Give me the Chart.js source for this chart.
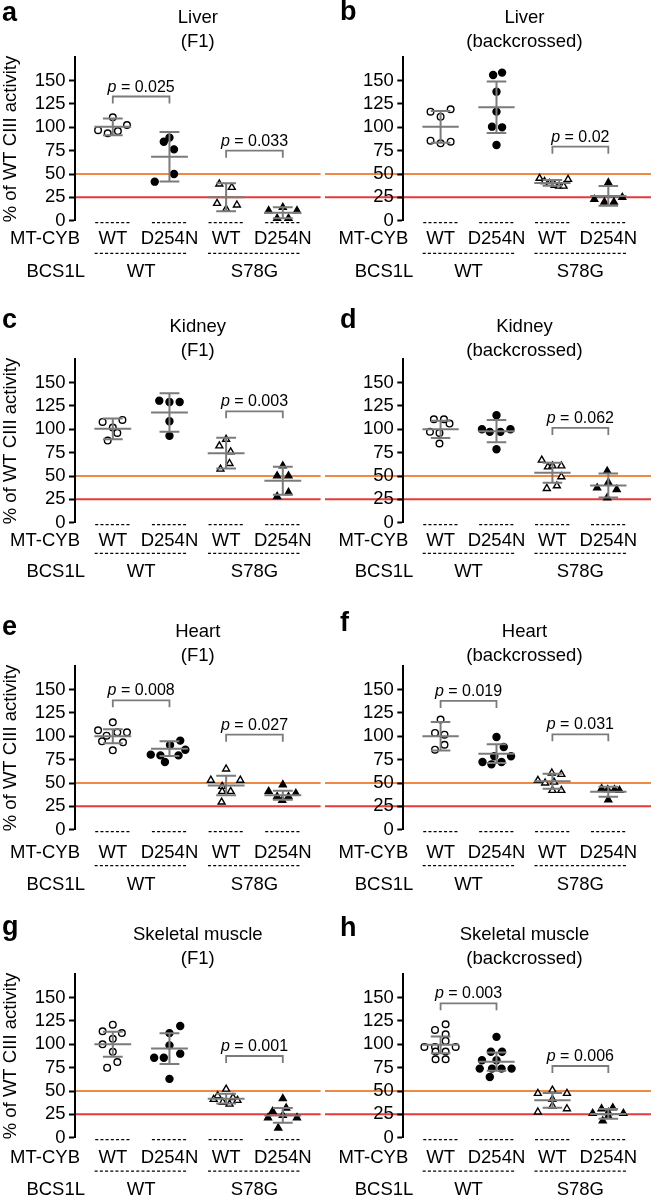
<!DOCTYPE html>
<html>
<head>
<meta charset="utf-8">
<script src="https://cdn.jsdelivr.net/npm/chart.js@4.4.1/dist/chart.umd.min.js"></script>
<style>
  html, body { margin: 0; padding: 0; background: #fff; overflow: hidden; }
  #fig { position: relative; width: 651px; height: 1196px; overflow: hidden; }
  #fig canvas { position: absolute; }
</style>
</head>
<body>
<div id="fig"></div>
<script>
// shared labels
const categories = ['WT', 'D254N', 'WT', 'D254N'];
const bcs1lGroups = ['WT', 'S78G'];
const yTickValues = [0, 25, 50, 75, 100, 125, 150];
const thresholds = [50, 25];
const thresholdColors = ['#ef8a45', '#e63a3a'];

// a - Liver (F1)
const aValues = [[110.7, 97, 93.6, 96, 102.5], [89, 84.6, 76.4, 50, 41.8], [39.3, 35.7, 18.6, 12.5, 16.8], [14.3, 10.7, 10.7, 2.5, 2.5]];
const aJitter = [[0, -0.26, -0.09, 0.09, 0.25], [0, -0.1, 0.08, 0.08, -0.26], [-0.12, 0.1, -0.16, 0, 0.19], [0, -0.25, 0.25, -0.1, 0.1]];
const aMean = [100.5, 68.5, 25, 8.5];
const aSd = [9, 26.5, 15, 6];
const aP = [[1, 2, 133, '0.025'], [3, 4, 75, '0.033']];

// b - Liver (backcrossed)
const bValues = [[116.8, 119.3, 111.4, 85.7, 82.9, 84.6], [156, 158.6, 138.2, 116.8, 100.7, 100, 81], [45.4, 42, 40, 38, 37, 37, 44.3], [40.7, 22.9, 20, 20, 25]];
const bJitter = [[-0.18, 0.18, 0, -0.18, 0, 0.18], [-0.06, 0.1, 0, 0, -0.08, 0.1, 0], [-0.23, -0.14, -0.05, 0.04, 0.12, 0.2, 0.28], [0, -0.25, -0.07, 0.1, 0.25]];
const bMean = [100.5, 121.5, 40.5, 26.5];
const bSd = [17, 27.5, 3, 10.6];
const bP = [[3, 4, 79.3, '0.02']];

// c - Kidney (F1)
const cValues = [[107.9, 110.1, 101.9, 96.2, 88], [130.7, 129.3, 129.3, 108.7, 93], [89.4, 82.3, 75.9, 63.4, 57.4], [60.9, 50.2, 50.2, 32.4, 28.1]];
const cJitter = [[-0.18, 0.17, 0, 0.08, -0.09], [-0.18, 0, 0.18, 0, 0], [0, -0.12, 0.08, 0.06, -0.1], [0, -0.1, 0.1, 0.1, -0.1]];
const cMean = [100.5, 118, 74.5, 45];
const cSd = [11, 20.6, 16.4, 15];
const cP = [[3, 4, 119.3, '0.003']];

// d - Kidney (backcrossed)
const dValues = [[110.8, 110.8, 106.2, 97.3, 96.2, 84.8], [115, 100.1, 97.3, 97.3, 100.1, 78.7], [67, 59.8, 60.9, 60.9, 49.2, 36.7, 39.5], [55.2, 43.1, 37.4, 35.6, 26.7]];
const dJitter = [[-0.12, 0.06, 0.16, -0.19, -0.02, -0.02], [0, -0.26, -0.12, 0.07, 0.25, 0], [-0.19, -0.08, 0, 0.16, 0.16, -0.1, 0.08], [-0.02, 0, -0.2, 0.15, -0.02]];
const dMean = [100, 98, 53.4, 39.8];
const dSd = [9.3, 11.9, 10.7, 12.8];
const dP = [[3, 4, 101.5, '0.062']];

// e - Heart (F1)
const eValues = [[115, 106.4, 104.3, 104.3, 100.7, 94.6, 93.6, 85], [95.4, 90.7, 85.7, 80.4, 79.6, 79.6, 72.5], [65, 53, 53, 46.4, 41, 41, 29.6], [48.2, 41, 35.4, 31.4, 35.4, 38.9]];
const eJitter = [[0, -0.26, 0.08, 0.25, -0.11, -0.19, 0.18, 0], [0.19, 0.01, 0.28, -0.33, -0.16, 0.16, -0.08], [0, -0.27, 0.25, -0.07, -0.07, 0.08, -0.08], [0, -0.25, -0.1, -0.01, 0.1, 0.23]];
const eMean = [100, 86.8, 47.3, 36.8];
const eSd = [7.5, 8, 10.5, 4.8];
const eP = [[1, 2, 138.6, '0.008'], [3, 4, 101.8, '0.027']];

// f - Heart (backcrossed)
const fValues = [[117.9, 103.6, 101.8, 91, 85.7], [99.3, 88.6, 78.6, 78.6, 72.5, 70, 72.5], [60.7, 59.3, 52.9, 50, 51, 42.1, 42.1], [43.9, 42.9, 42.9, 42.1, 32.1]];
const fJitter = [[0, -0.1, 0.07, 0.07, -0.1], [0, 0.13, -0.04, 0.26, -0.25, -0.09, 0.09], [-0.01, 0.16, -0.26, -0.13, 0.03, 0, 0.16], [-0.12, -0.01, 0.11, 0.2, 0]];
const fMean = [100, 81.4, 51.8, 40.7];
const fSd = [15.3, 10, 8, 5.3];
const fP = [[1, 2, 137.9, '0.019'], [3, 4, 102.1, '0.031']];

// g - Skeletal muscle (F1)
const gValues = [[121, 114, 112, 106, 100, 92, 81, 75], [119.6, 112, 98.9, 90, 85.7, 85.7, 63], [52, 45, 43, 41, 40, 38, 36], [41.8, 31.8, 28.2, 23.9, 21.4, 21.4, 10.4]];
const gJitter = [[0, -0.18, 0.16, 0, -0.18, 0, 0.08, -0.1], [0.19, 0, 0, 0.19, -0.27, -0.1, 0], [0, -0.15, 0.12, -0.22, 0.2, -0.06, 0.06], [0, 0.06, -0.18, 0, -0.26, 0.25, -0.08]];
const gMean = [100, 95.4, 41.8, 23.9];
const gSd = [13.4, 16.4, 5.3, 8];
const gP = [[3, 4, 87.5, '0.001']];

// h - Skeletal muscle (backcrossed)
const hValues = [[121.5, 115.4, 110.8, 103.6, 97.2, 97.2, 97.2, 92.2, 92.2, 84, 84], [108, 92, 92, 83, 83, 74, 74, 74, 74, 65], [51, 47.5, 47.5, 41, 34, 27.5, 31], [31, 32, 27, 26, 26, 23, 18]];
const hJitter = [[0.09, -0.1, 0.09, 0.09, -0.29, -0.1, 0.27, -0.09, 0.09, -0.09, 0.09], [0, -0.1, 0.1, -0.26, 0, -0.3, -0.08, 0.09, 0.27, -0.12], [0, -0.26, 0.26, 0, 0, -0.26, 0.26], [-0.12, 0.08, 0, -0.28, 0.27, 0, -0.1]];
const hMean = [99.5, 81.4, 40, 25.5];
const hSd = [9, 9.8, 8, 5.3];
const hP = [[1, 2, 143.9, '0.003'], [3, 4, 76.8, '0.006']];

const panels = [
    { letter: 'a', title: ['Liver', '(F1)'], values: aValues, jitter: aJitter, mean: aMean, sd: aSd, pvals: aP, col: 0, row: 0 },
    { letter: 'b', title: ['Liver', '(backcrossed)'], values: bValues, jitter: bJitter, mean: bMean, sd: bSd, pvals: bP, col: 1, row: 0 },
    { letter: 'c', title: ['Kidney', '(F1)'], values: cValues, jitter: cJitter, mean: cMean, sd: cSd, pvals: cP, col: 0, row: 1 },
    { letter: 'd', title: ['Kidney', '(backcrossed)'], values: dValues, jitter: dJitter, mean: dMean, sd: dSd, pvals: dP, col: 1, row: 1 },
    { letter: 'e', title: ['Heart', '(F1)'], values: eValues, jitter: eJitter, mean: eMean, sd: eSd, pvals: eP, col: 0, row: 2 },
    { letter: 'f', title: ['Heart', '(backcrossed)'], values: fValues, jitter: fJitter, mean: fMean, sd: fSd, pvals: fP, col: 1, row: 2 },
    { letter: 'g', title: ['Skeletal muscle', '(F1)'], values: gValues, jitter: gJitter, mean: gMean, sd: gSd, pvals: gP, col: 0, row: 3 },
    { letter: 'h', title: ['Skeletal muscle', '(backcrossed)'], values: hValues, jitter: hJitter, mean: hMean, sd: hSd, pvals: hP, col: 1, row: 3 },
];

// layout (px, relative to each row's top)
const TOP = 24; // extra canvas room above each row
const rowTop = [0, 302, 609, 916.5];
const titleBase = [22.7, 29.5, 27.5, 22.5];
const letterBase = [[21, 20], [26.3, 26.3], [26, 22], [18, 18.5]];
const bottomRows = [[18.6, 32.6, 51], [18.3, 30.6, 49], [23.5, 36, 55], [20.5, 33.5, 52.5]];
const groupStyle = [
    { pointStyle: 'circle', fill: '#ffffff', r: 3.3 },
    { pointStyle: 'circle', fill: '#000000', r: 3.5 },
    { pointStyle: 'triangle', fill: '#ffffff', r: 4 },
    { pointStyle: 'triangle', fill: '#000000', r: 4 },
];
const FAMILY = '"Liberation Sans", Arial, Helvetica, sans-serif';
const font = (size, style) => (style ? style + ' ' : '') + size + 'px ' + FAMILY;
Chart.defaults.font.family = FAMILY;

function decor(p) {
    return {
        id: 'decor',
        beforeDraw(chart) {
            const { ctx, chartArea, scales: { y } } = chart;
            ctx.save();
            ctx.lineWidth = 2;
            thresholds.forEach((v, k) => {
                const py = y.getPixelForValue(v);
                ctx.strokeStyle = thresholdColors[k];
                ctx.beginPath();
                ctx.moveTo(p.col ? 0 : chartArea.left, py);
                ctx.lineTo(p.col ? chart.width : chartArea.right, py);
                ctx.stroke();
            });
            ctx.restore();
        },
        afterDatasetsDraw(chart) {
            const { ctx, scales: { x, y } } = chart;
            ctx.save();
            ctx.strokeStyle = '#7b7b7b';
            ctx.lineWidth = 2;
            p.mean.forEach((m, g) => {
                const c = g + 1;
                const ym = y.getPixelForValue(m);
                const yt = y.getPixelForValue(m + p.sd[g]);
                const yb = y.getPixelForValue(m - p.sd[g]);
                ctx.beginPath();
                ctx.moveTo(x.getPixelForValue(c - 0.325), ym);
                ctx.lineTo(x.getPixelForValue(c + 0.325), ym);
                ctx.moveTo(x.getPixelForValue(c), yt);
                ctx.lineTo(x.getPixelForValue(c), yb);
                ctx.moveTo(x.getPixelForValue(c - 0.175), yt);
                ctx.lineTo(x.getPixelForValue(c + 0.175), yt);
                ctx.moveTo(x.getPixelForValue(c - 0.175), yb);
                ctx.lineTo(x.getPixelForValue(c + 0.175), yb);
                ctx.stroke();
            });
            // significance brackets
            ctx.lineWidth = 1.8;
            p.pvals.forEach(([from, to, level, txt]) => {
                const yl = y.getPixelForValue(level);
                const xa = x.getPixelForValue(from);
                const xb = x.getPixelForValue(to);
                ctx.beginPath();
                ctx.moveTo(xa, yl + 7);
                ctx.lineTo(xa, yl);
                ctx.lineTo(xb, yl);
                ctx.lineTo(xb, yl + 7);
                ctx.stroke();
                ctx.fillStyle = '#000';
                ctx.textAlign = 'left';
                ctx.textBaseline = 'alphabetic';
                ctx.font = font(16, 'italic');
                const w1 = ctx.measureText('p').width;
                ctx.font = font(16);
                const rest = ' = ' + txt;
                const w2 = ctx.measureText(rest).width;
                const sx = (xa + xb) / 2 - (w1 + w2) / 2;
                ctx.font = font(16, 'italic');
                ctx.fillText('p', sx, yl - 5);
                ctx.font = font(16);
                ctx.fillText(rest, sx + w1, yl - 5);
            });
            ctx.restore();
        },
        afterDraw(chart) {
            const { ctx, chartArea, scales: { x, y } } = chart;
            const y0 = y.getPixelForValue(0);
            const off = bottomRows[p.row];
            ctx.save();
            ctx.fillStyle = '#000';
            // panel letter
            ctx.font = font(27, 'bold');
            ctx.textAlign = 'left';
            ctx.textBaseline = 'alphabetic';
            ctx.fillText(p.letter, p.col ? 15 : 2, TOP + letterBase[p.row][p.col]);
            // title
            ctx.font = font(18.5);
            ctx.textAlign = 'center';
            const cx = (chartArea.left + chartArea.right) / 2;
            ctx.fillText(p.title[0], cx, TOP + titleBase[p.row]);
            ctx.fillText(p.title[1], cx, TOP + titleBase[p.row] + 24.5);
            // dashed separators
            ctx.strokeStyle = '#000';
            ctx.lineWidth = 1.3;
            ctx.setLineDash([3, 2.2]);
            categories.forEach((c, i) => {
                ctx.beginPath();
                ctx.moveTo(x.getPixelForValue(i + 1 - 0.31), y0 + 2);
                ctx.lineTo(x.getPixelForValue(i + 1 + 0.31), y0 + 2);
                ctx.stroke();
            });
            bcs1lGroups.forEach((b, j) => {
                ctx.beginPath();
                ctx.moveTo(x.getPixelForValue(2 * j + 1 - 0.32), y0 + off[1]);
                ctx.lineTo(x.getPixelForValue(2 * j + 2 + 0.32), y0 + off[1]);
                ctx.stroke();
            });
            ctx.setLineDash([]);
            // category rows
            ctx.textBaseline = 'middle';
            ctx.font = font(18.5);
            ctx.textAlign = 'center';
            categories.forEach((c, i) => ctx.fillText(c, x.getPixelForValue(i + 1), y0 + off[0]));
            bcs1lGroups.forEach((b, j) => ctx.fillText(b, x.getPixelForValue(2 * j + 1.5), y0 + off[2]));
            ctx.textAlign = 'right';
            ctx.fillText('MT-CYB', chartArea.left + 5, y0 + off[0]);
            ctx.fillText('BCS1L', chartArea.left + 10, y0 + off[2]);
            ctx.restore();
        }
    };
}

const fig = document.getElementById('fig');
panels.forEach(p => {
    const canvas = document.createElement('canvas');
    canvas.width = 326;
    canvas.height = 300 + TOP;
    canvas.style.width = '326px';
    canvas.style.height = (300 + TOP) + 'px';
    canvas.style.left = (p.col ? 325 : 0) + 'px';
    canvas.style.top = (rowTop[p.row] - TOP) + 'px';
    fig.appendChild(canvas);

    const datasets = p.values.map((vals, g) => ({
        data: vals.map((v, i) => ({ x: g + 1 + p.jitter[g][i], y: v })),
        pointStyle: groupStyle[g].pointStyle,
        pointRadius: groupStyle[g].r,
        backgroundColor: groupStyle[g].fill,
        borderColor: '#000',
        borderWidth: 1.4,
        clip: false
    }));

    new Chart(canvas, {
        type: 'scatter',
        data: { datasets: datasets },
        options: {
            responsive: false,
            animation: false,
            layout: { padding: { left: 0, right: p.col ? 0 : 4, top: TOP + 57.3, bottom: 79.3 } },
            plugins: {
                legend: { display: false },
                tooltip: { enabled: false }
            },
            scales: {
                x: { type: 'linear', display: false, min: 0.333, max: 4.667 },
                y: {
                    min: 0,
                    max: 175,
                    afterBuildTicks: (s) => { s.ticks = yTickValues.map(v => ({ value: v })); },
                    afterFit: (s) => { s.width = p.col ? 78.3 : 75; },
                    ticks: { color: '#000', font: { size: 18.5 }, padding: 3.5 },
                    grid: { drawOnChartArea: false, tickLength: 6, tickWidth: 2, tickColor: '#000' },
                    border: { color: '#000', width: 2 },
                    title: {
                        display: p.col === 0,
                        text: '% of WT CIII activity',
                        color: '#000',
                        font: { size: 18.5 },
                        padding: 0
                    }
                }
            }
        },
        plugins: [decor(p)]
    });
});
</script>
</body>
</html>
